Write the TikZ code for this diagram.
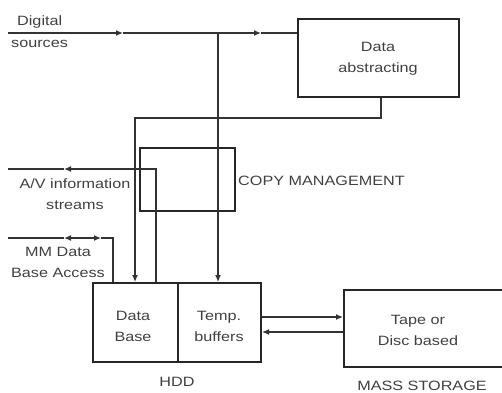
\documentclass[tikz,border=0pt]{standalone}
\usepackage{fontspec}
\newfontfamily\diafont[FakeStretch=1.2]{Liberation Sans}
\usetikzlibrary{arrows.meta}

\tikzset{
  tip/.tip={Latex[length=7pt,width=6pt]},
  lbl/.style={font=\diafont\fontsize{13.5}{21}\selectfont, text=black!75, inner sep=0pt, align=center},
  box/.style={draw=black!85, line width=2pt, inner sep=0pt},
  flow/.style={draw=black!80, line width=1.3pt}
}

\begin{document}
\begin{tikzpicture}[x=1pt,y=-1pt]
\useasboundingbox (0,0) rectangle (502,392);
\clip (0,0) rectangle (502,392);

% boxes
\node[box, minimum width=161pt, minimum height=78pt] (abs) at (378.5,58) {};
\node[lbl] (abstxt) at (378,59) {Data\\abstracting};
\node[box, minimum width=95pt, minimum height=63pt] (copy) at (187.5,179.5) {};
\node[lbl, anchor=west] (copytxt) at (238,181) {COPY MANAGEMENT};
\node[box, minimum width=85pt, minimum height=79pt] (db) at (135.5,322.5) {};
\node[lbl] (dbtxt) at (133,326) {Data\\Base};
\node[box, minimum width=83pt, minimum height=79pt] (temp) at (219.5,322.5) {};
\node[lbl] (temptxt) at (219,326) {Temp.\\buffers};
\node[lbl] (hdd) at (177,382) {HDD};
\node[box, minimum width=176pt, minimum height=77pt] (mass) at (432,328.5) {};
\node[lbl] (masstxt) at (418,330) {Tape or\\Disc based};
\node[lbl] (masslbl) at (422,386) {MASS STORAGE};

% inputs
\node[lbl, anchor=west] (digital) at (17,22) {Digital};
\node[lbl, anchor=west] (sources) at (11,44) {sources};
\node[lbl] (avtxt) at (75,194) {A/V information\\streams};
\node[lbl] (mmtxt) at (58,262) {MM Data\\Base Access};

\coordinate (dig) at (8,33);
\coordinate (d1) at (123,33);
\coordinate (j1) at (218,33);
\coordinate (d2) at (261,33);
\coordinate (k1) at (381,118);
\coordinate (k2) at (135,118);
\coordinate (av) at (8,169);
\coordinate (a1) at (64,169);
\coordinate (k3) at (156,169);
\coordinate (mm) at (8,238);
\coordinate (m1) at (64,238);
\coordinate (m2) at (101,238);
\coordinate (k4) at (113,238);

% connectors
\draw[flow, -tip] (dig) -- (d1);
\draw[flow] (d1) -- (j1);
\draw[flow, -tip] (j1) -- (d2);
\draw[flow] (d2) -- (abs.west |- d2);
\draw[flow, -tip] (j1) -- (j1 |- temp.north);
\draw[flow, -tip] (abs.south -| k1) -- (k1) -- (k2) -- (k2 |- db.north);
\draw[flow, -tip] (k3 |- db.north) -- (k3) -- (a1);
\draw[flow] (a1) -- (av);
\draw[flow, tip-tip] (m1) -- (m2);
\draw[flow] (mm) -- (m1) (m2) -- (k4) -- (k4 |- db.north);
\draw[flow, -tip] ([yshift=5.5pt]temp.east) -- ([yshift=5.5pt]temp.east -| mass.west);
\draw[flow, -tip] ([yshift=-3.5pt]mass.west) -- ([yshift=-3.5pt]mass.west -| temp.east);
\end{tikzpicture}
\end{document}
